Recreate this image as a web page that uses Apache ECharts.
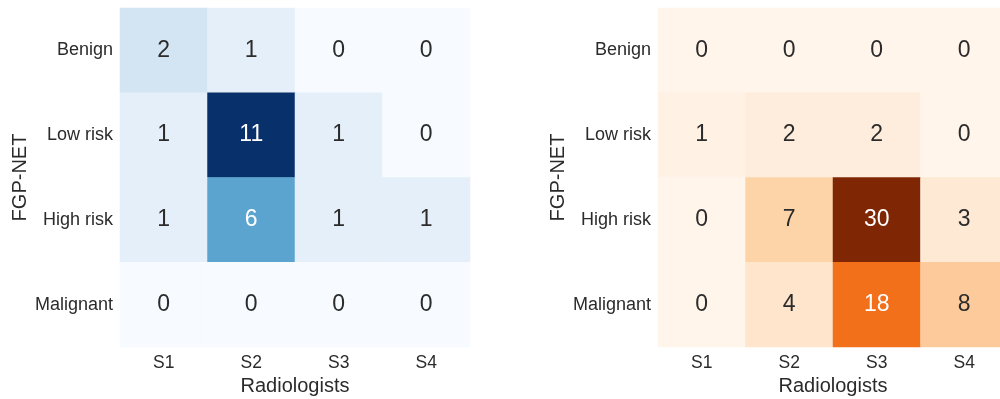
<!DOCTYPE html>
<html>
<head>
<meta charset="utf-8">
<script src="https://cdn.jsdelivr.net/npm/echarts@6/dist/echarts.min.js"></script>
<style>
  html, body { margin: 0; padding: 0; background: #ffffff; }
  #chart { width: 1000px; height: 399px; }
</style>
</head>
<body>
<div id="chart"></div>
<script>
// Radiologist ratings (columns) versus FGP-NET predicted class (rows)
const radiologists = ['S1', 'S2', 'S3', 'S4'];
const fgpClasses = ['Benign', 'Low risk', 'High risk', 'Malignant'];

// Left matrix (Blues), one row per FGP-NET class
const leftCounts = [
  [2, 1, 0, 0],
  [1, 11, 1, 0],
  [1, 6, 1, 1],
  [0, 0, 0, 0]
];

// Right matrix (Oranges), one row per FGP-NET class
const rightCounts = [
  [0, 0, 0, 0],
  [1, 2, 2, 0],
  [0, 7, 30, 3],
  [0, 4, 18, 8]
];

const blues = ['#f7fbff', '#deebf7', '#c6dbef', '#9ecae1', '#6baed6', '#4292c6', '#2171b5', '#08519c', '#08306b'];
const oranges = ['#fff5eb', '#fee6ce', '#fdd0a2', '#fdae6b', '#fd8d3c', '#f16913', '#d94801', '#a63603', '#7f2704'];

const FONT = 'Liberation Sans, Arial, sans-serif';
const DARK = '#2b2b2b';

function maxOf(m) { return Math.max.apply(null, m.flat()); }

// Heatmap items: [colIndex, rowIndex, value] with contrasting label colour
function toItems(matrix) {
  const mx = maxOf(matrix);
  const items = [];
  matrix.forEach((row, r) => {
    row.forEach((v, c) => {
      items.push({
        value: [c, r, v],
        label: { color: v / mx > 0.5 ? '#ffffff' : DARK }
      });
    });
  });
  return items;
}

function xAxisFor(gridIndex) {
  return {
    type: 'category',
    gridIndex: gridIndex,
    data: radiologists,
    name: 'Radiologists',
    nameLocation: 'middle',
    nameGap: 26,
    nameTextStyle: { fontFamily: FONT, fontSize: 20, color: DARK },
    axisLine: { show: false },
    axisTick: { show: false },
    splitLine: { show: false },
    axisLabel: { fontFamily: FONT, fontSize: 17.5, color: DARK, margin: 7 }
  };
}

function yAxisFor(gridIndex) {
  return {
    type: 'category',
    gridIndex: gridIndex,
    data: fgpClasses,
    inverse: true,
    name: 'FGP-NET',
    nameLocation: 'middle',
    nameGap: 90,
    nameTextStyle: { fontFamily: FONT, fontSize: 20, color: DARK },
    axisLine: { show: false },
    axisTick: { show: false },
    splitLine: { show: false },
    axisLabel: { fontFamily: FONT, fontSize: 18, color: DARK, margin: 7 }
  };
}

function heatSeries(idx, matrix) {
  return {
    type: 'heatmap',
    xAxisIndex: idx,
    yAxisIndex: idx,
    data: toItems(matrix),
    label: {
      show: true,
      fontFamily: FONT,
      fontSize: 23,
      formatter: p => String(p.value[2])
    },
    itemStyle: { borderWidth: 0 },
    emphasis: { disabled: true }
  };
}

const chart = echarts.init(document.getElementById('chart'), null, { renderer: 'canvas' });

chart.setOption({
  animation: false,
  backgroundColor: '#ffffff',
  grid: [
    { left: 120, top: 8, width: 350, height: 339, containLabel: false, outerBoundsMode: 'none' },
    { left: 658, top: 8, width: 350, height: 339, containLabel: false, outerBoundsMode: 'none' }
  ],
  xAxis: [xAxisFor(0), xAxisFor(1)],
  yAxis: [yAxisFor(0), yAxisFor(1)],
  visualMap: [
    {
      type: 'continuous', show: false, seriesIndex: 0, dimension: 2,
      min: 0, max: maxOf(leftCounts),
      inRange: { color: blues }
    },
    {
      type: 'continuous', show: false, seriesIndex: 1, dimension: 2,
      min: 0, max: maxOf(rightCounts),
      inRange: { color: oranges }
    }
  ],
  series: [heatSeries(0, leftCounts), heatSeries(1, rightCounts)]
});
</script>
</body>
</html>
